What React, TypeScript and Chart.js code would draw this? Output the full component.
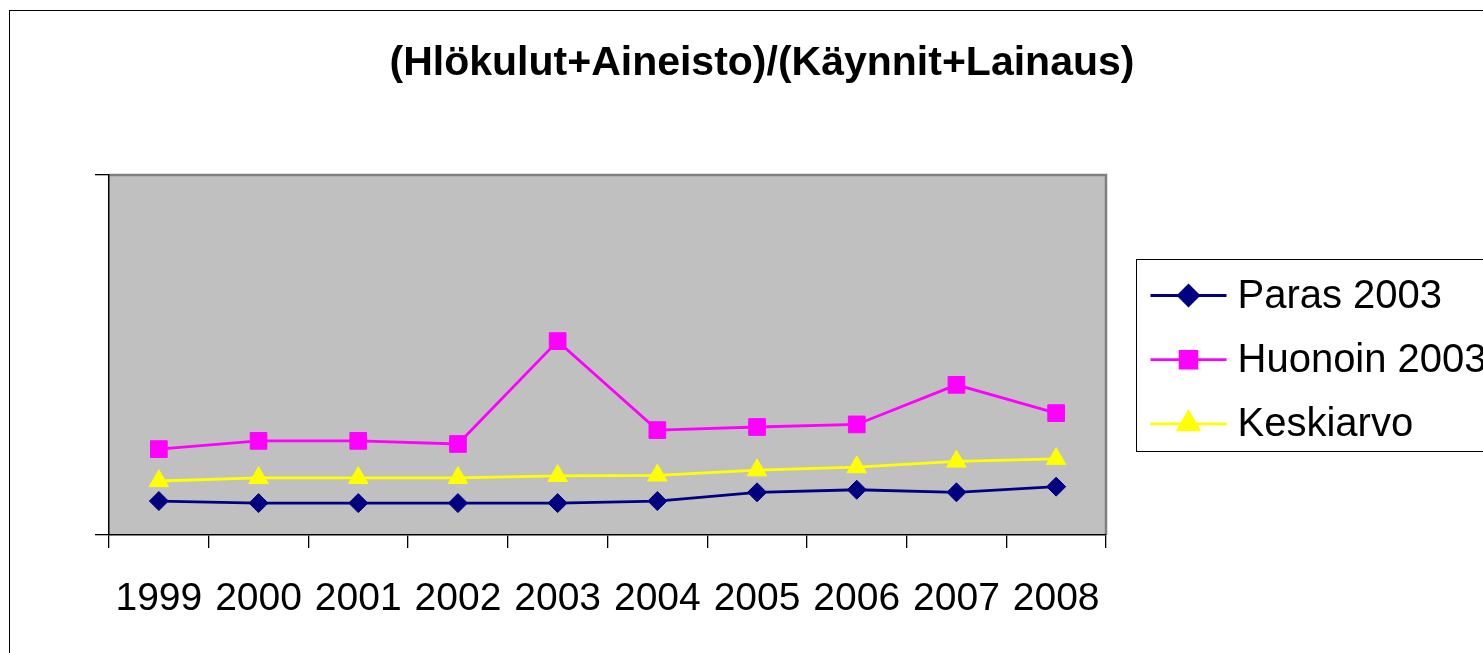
import React, { useEffect, useRef } from 'react';
import { Chart, registerables } from 'chart.js';
import { drawPoint } from 'chart.js/helpers';

Chart.register(...registerables);

const TITLE = '(Hlökulut+Aineisto)/(Käynnit+Lainaus)';
const years = ['1999', '2000', '2001', '2002', '2003', '2004', '2005', '2006', '2007', '2008'];
const seriesNames = ['Paras 2003', 'Huonoin 2003', 'Keskiarvo'];
const paras2003 = [0.66, 0.62, 0.62, 0.62, 0.62, 0.66, 0.83, 0.88, 0.83, 0.94];
const huonoin2003 = [1.67, 1.83, 1.83, 1.77, 3.77, 2.04, 2.1, 2.15, 2.92, 2.37];
const keskiarvo = [1.05, 1.11, 1.11, 1.11, 1.15, 1.16, 1.26, 1.32, 1.43, 1.48];
const Y_MIN = 0;
const Y_MAX = 7;

const FONT = '"Liberation Sans", Arial, Helvetica, sans-serif';
const W = 1524;
const H = 653;

export default function App() {
  const ref = useRef<HTMLCanvasElement>(null);

  useEffect(() => {
    const canvas = ref.current;
    if (!canvas) return;

    const deco = {
      id: 'deco',
      beforeDraw(chart: any) {
        const { ctx, chartArea: a } = chart;
        ctx.save();
        ctx.fillStyle = '#ffffff';
        ctx.fillRect(0, 0, chart.width, chart.height);
        ctx.strokeStyle = '#000000';
        ctx.lineWidth = 1;
        ctx.strokeRect(9.5, 10.5, chart.width - 19, chart.height + 40);
        ctx.fillStyle = '#C0C0C0';
        ctx.fillRect(a.left, a.top, a.right - a.left, a.bottom - a.top);
        ctx.strokeStyle = '#808080';
        ctx.lineWidth = 2.5;
        ctx.beginPath();
        ctx.moveTo(a.left, a.top);
        ctx.lineTo(a.right, a.top);
        ctx.lineTo(a.right, a.bottom);
        ctx.stroke();
        ctx.restore();
      },
      afterDraw(chart: any) {
        const { ctx, chartArea: a } = chart;
        const left = Math.round(a.right + 31) - 0.5;
        const midY = (a.top + a.bottom) / 2;
        const top = Math.round(midY - 96) + 0.5;
        const boxH = 192;
        const boxW = 362;
        ctx.save();
        ctx.strokeStyle = '#000000';
        ctx.lineWidth = 1;
        ctx.strokeRect(left, top, boxW, boxH);
        chart.data.datasets.forEach((ds: any, i: number) => {
          const y = top + 36 + i * 64.2;
          const x1 = left + 14;
          const x2 = left + 90;
          ctx.strokeStyle = ds.borderColor;
          ctx.lineWidth = ds.borderWidth;
          ctx.beginPath();
          ctx.moveTo(x1, y);
          ctx.lineTo(x2, y);
          ctx.stroke();
          ctx.fillStyle = ds.pointBackgroundColor;
          ctx.strokeStyle = ds.pointBorderColor;
          drawPoint(ctx, { pointStyle: ds.pointStyle, radius: ds.legendRadius, borderWidth: 1, rotation: 0 } as any, (x1 + x2) / 2, y);
          ctx.fillStyle = '#000000';
          ctx.font = `40px ${FONT}`;
          ctx.textBaseline = 'middle';
          ctx.textAlign = 'left';
          ctx.fillText(ds.label, left + 101, y + 1);
        });
        ctx.restore();
      },
    };

    const mk = (label: string, data: number[], color: string, style: string, radius: number, legendRadius: number) => ({
      label,
      data,
      borderColor: color,
      backgroundColor: color,
      borderWidth: 2.8,
      pointStyle: style,
      pointRadius: radius,
      pointBackgroundColor: color,
      pointBorderColor: color,
      pointBorderWidth: 1,
      legendRadius,
      tension: 0,
    });

    const chart = new Chart(canvas, {
      type: 'line',
      data: {
        labels: years,
        datasets: [
          mk(seriesNames[0], paras2003, '#000080', 'rectRot', 9.5, 10),
          mk(seriesNames[1], huonoin2003, '#FF00FF', 'rect', 11.8, 11.8),
          mk(seriesNames[2], keskiarvo, '#FFFF00', 'triangle', 11.3, 12),
        ] as any,
      },
      options: {
        responsive: false,
        animation: false,
        events: [],
        layout: { padding: 0, autoPadding: false } as any,
        plugins: {
          legend: { display: false },
          tooltip: { enabled: false },
          title: {
            display: true,
            text: TITLE,
            color: '#000000',
            font: { family: FONT, size: 41, weight: 'bold' },
            padding: { top: 39.4, bottom: 86.4 },
          },
        },
        scales: {
          x: {
            type: 'category',
            offset: true,
            grid: {
              offset: true,
              drawOnChartArea: false,
              drawTicks: true,
              tickLength: 13,
              color: '#000000',
              lineWidth: 1.3,
            },
            border: { display: true, color: '#000000', width: 1.5 },
            ticks: {
              color: '#000000',
              font: { family: FONT, size: 39 },
              padding: 28,
              maxRotation: 0,
              minRotation: 0,
              autoSkip: false,
            },
            afterFit: (s: any) => {
              s.height = 118;
            },
          },
          y: {
            type: 'linear',
            position: 'left',
            min: Y_MIN,
            max: Y_MAX,
            ticks: { display: false, stepSize: Y_MAX - Y_MIN },
            grid: {
              drawOnChartArea: false,
              drawTicks: true,
              tickLength: 14,
              color: '#000000',
              lineWidth: 1.3,
            },
            border: { display: true, color: '#000000', width: 1.5 },
            afterFit: (s: any) => {
              s.width = 109;
            },
          },
          legendSpace: {
            type: 'linear',
            position: 'right',
            display: true,
            grid: { display: false },
            border: { display: false },
            ticks: { display: false },
            afterFit: (s: any) => {
              s.width = W - 1106;
            },
          },
        } as any,
      },
      plugins: [deco],
    });

    return () => {
      chart.destroy();
    };
  }, []);

  return (
    <div
      style={{
        position: 'fixed',
        left: 0,
        top: 0,
        width: 1483,
        height: 653,
        overflow: 'hidden',
        background: '#ffffff',
      }}
    >
      <canvas ref={ref} width={W} height={H} style={{ display: 'block', width: W, height: H }} />
    </div>
  );
}
